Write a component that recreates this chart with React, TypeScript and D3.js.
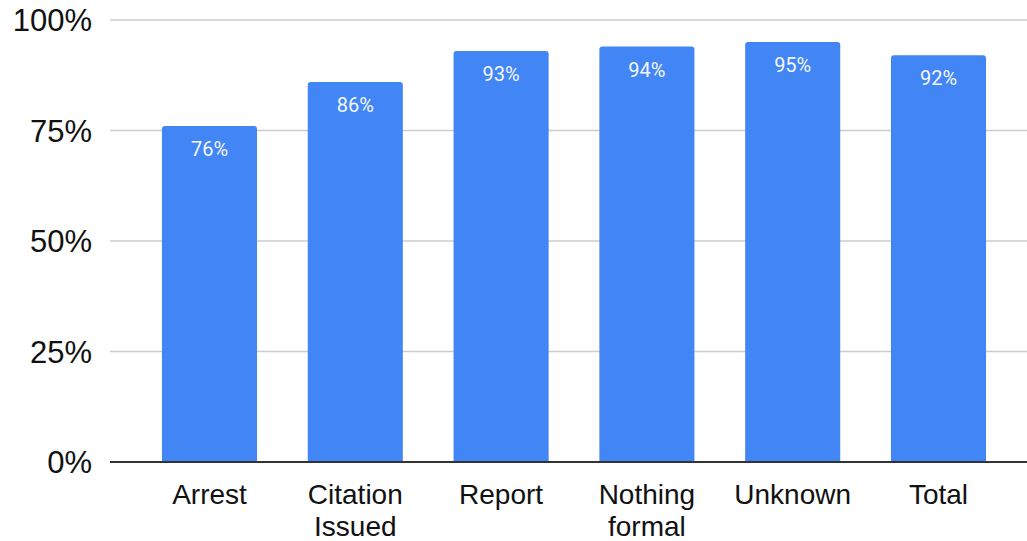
import React, { useEffect, useRef } from "react";
import * as d3 from "d3";

const categories = ["Arrest", "Citation Issued", "Report", "Nothing formal", "Unknown", "Total"];
const labelLines = [["Arrest"], ["Citation", "Issued"], ["Report"], ["Nothing", "formal"], ["Unknown"], ["Total"]];
const values = [0.76, 0.86, 0.93, 0.94, 0.95, 0.92];
const valueLabels = ["76%", "86%", "93%", "94%", "95%", "92%"];
const yTicks = [0, 0.25, 0.5, 0.75, 1];

const App = () => {
  const ref = useRef<SVGSVGElement | null>(null);

  useEffect(() => {
    if (!ref.current) return;
    const svg = d3.select(ref.current);
    svg.selectAll("*").remove();

    const width = 1027;
    const height = 541;
    const gridLeft = 110;

    const x = d3
      .scaleBand()
      .domain(categories)
      .range([136.6, 1011.4])
      .paddingInner(0.348)
      .paddingOuter(0.174);

    const y = d3.scaleLinear().domain([0, 1]).range([462, 20]);

    svg.append("rect").attr("width", width).attr("height", height).attr("fill", "#fff");

    // gridlines
    svg
      .append("g")
      .selectAll("line")
      .data(yTicks.filter((d) => d > 0))
      .enter()
      .append("line")
      .attr("x1", gridLeft)
      .attr("x2", width)
      .attr("y1", (d) => y(d))
      .attr("y2", (d) => y(d))
      .attr("stroke", "#cccccc")
      .attr("stroke-width", 1.5);

    // y tick labels
    svg
      .append("g")
      .selectAll("text")
      .data(yTicks)
      .enter()
      .append("text")
      .attr("x", 92)
      .attr("y", (d) => y(d) + 11)
      .attr("text-anchor", "end")
      .attr("font-family", "Liberation Sans, Arial, sans-serif")
      .attr("font-size", 31)
      .attr("fill", "#111")
      .text((d) => d3.format(".0%")(d));

    // bars with rounded top corners
    const r = 3;
    const bw = x.bandwidth();
    svg
      .append("g")
      .selectAll("path")
      .data(values)
      .enter()
      .append("path")
      .attr("fill", "#4285f4")
      .attr("d", (d, i) => {
        const x0 = x(categories[i])!;
        const y0 = y(d);
        const yb = y(0);
        const p = d3.path();
        p.moveTo(x0, yb);
        p.lineTo(x0, y0 + r);
        p.quadraticCurveTo(x0, y0, x0 + r, y0);
        p.lineTo(x0 + bw - r, y0);
        p.quadraticCurveTo(x0 + bw, y0, x0 + bw, y0 + r);
        p.lineTo(x0 + bw, yb);
        p.closePath();
        return p.toString();
      });

    // value labels
    svg
      .append("g")
      .selectAll("text")
      .data(values)
      .enter()
      .append("text")
      .attr("x", (d, i) => x(categories[i])! + bw / 2)
      .attr("y", (d) => y(d) + 30)
      .attr("text-anchor", "middle")
      .attr("font-family", "Roboto, sans-serif")
      .attr("font-size", 20)
      .attr("fill", "#f4f7fe")
      .text((d, i) => valueLabels[i]);

    // baseline axis
    svg
      .append("line")
      .attr("x1", gridLeft)
      .attr("x2", width)
      .attr("y1", y(0))
      .attr("y2", y(0))
      .attr("stroke", "#333")
      .attr("stroke-width", 2);

    // category labels
    const cat = svg
      .append("g")
      .selectAll("text")
      .data(categories)
      .enter()
      .append("text")
      .attr("text-anchor", "middle")
      .attr("font-family", "Liberation Sans, Arial, sans-serif")
      .attr("font-size", 28)
      .attr("fill", "#111");
    cat.each(function (d, i) {
      const t = d3.select(this);
      labelLines[i].forEach((line, j) => {
        t.append("tspan")
          .attr("x", x(d)! + bw / 2)
          .attr("y", 504 + j * 32)
          .text(line);
      });
    });
  }, []);

  return (
    <svg
      ref={ref}
      width={1027}
      height={541}
      style={{ position: "absolute", left: 0, top: 0 }}
    ></svg>
  );
};

export default App;
